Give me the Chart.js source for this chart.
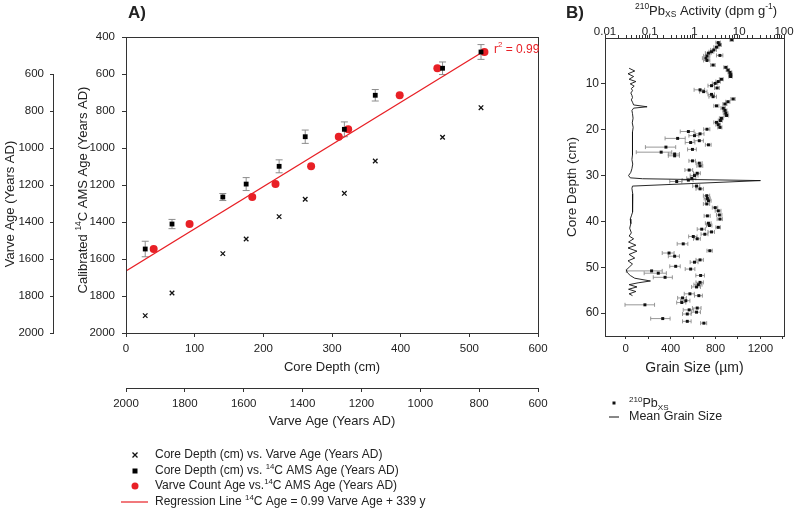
<!DOCTYPE html>
<html>
<head>
<meta charset="utf-8">
<script src="https://cdn.jsdelivr.net/npm/chart.js@4.4.1/dist/chart.umd.min.js"></script>
<style>
  body { margin: 0; background: #fff; }
  #wrap { position: relative; width: 796px; height: 512px; }
  #chartA { position: absolute; left: 0; top: 0; }
  #chartB { position: absolute; left: 560px; top: 0; }
</style>
</head>
<body>
<div id="wrap">
  <canvas id="chartA" width="560" height="512"></canvas>
  <canvas id="chartB" width="236" height="512"></canvas>
</div>
<script>
// ---- panel A data ----
const coreDepth = [28, 67, 141, 175, 223, 261, 318, 363, 461, 517];
const varveAge = [1906, 1784, 1571, 1492, 1371, 1277, 1245, 1070, 942, 782];
const amsAge = [1546, 1411, 1265, 1195, 1099, 939, 899, 715, 569, 481];
const amsErr = [42, 25, 19, 35, 35, 36, 40, 31, 34, 40];
const regVarve = [2000, 780];
const regAms = [1665, 473];
const depthTicks = [0, 100, 200, 300, 400, 500, 600];
const ageTicks = [400, 600, 800, 1000, 1200, 1400, 1600, 1800, 2000];
const varveTicks = [600, 800, 1000, 1200, 1400, 1600, 1800, 2000];

// ---- panel B data ----
const pbDepth = [0.4, 1.0, 1.5, 2.0, 2.6, 3.0, 3.3, 3.8, 3.9, 4.4, 4.9, 5.9, 6.4, 7.0, 7.5, 8.0, 8.4,
  9.0, 9.5, 9.9, 10.4, 10.9, 11.3, 11.7, 12.3, 12.8, 13.3, 13.9, 14.4, 14.8, 15.3, 15.8, 16.4, 16.9,
  17.5, 18.0, 18.4, 18.9, 19.5, 19.9, 20.4, 20.9, 21.3, 21.9, 22.4, 22.8, 23.3, 23.8, 24.3, 24.9,
  25.3, 25.7, 26.8, 27.3, 27.9, 28.8, 29.5, 30.0, 30.6, 31.0, 31.3, 32.3, 32.9, 34.4, 35.0, 35.5,
  36.2, 37.0, 37.7, 38.6, 38.8, 39.5, 40.4, 40.9, 41.3, 41.7, 42.3, 42.8, 43.3, 43.8, 44.9, 46.4,
  46.9, 47.6, 48.4, 48.9, 49.8, 50.4, 50.8, 51.3, 51.8, 52.2, 53.3, 53.8, 54.3, 55.8, 56.2, 56.7,
  57.3, 57.7, 58.2, 58.9, 59.3, 59.8, 60.2, 61.2, 61.8, 62.2];
const pbActivity = [6.8, 3.4, 3.6, 3.1, 2.7, 2.4, 2.05, 3.7, 1.9, 1.8, 1.9, 2.6, 5.0, 5.6, 6.2, 6.4, 6.4,
  4.0, 3.4, 2.9, 2.4, 3.2, 1.33, 1.6, 2.4, 2.6, 7.3, 5.6, 4.8, 3.1, 4.4, 4.8, 5.0, 5.2,
  4.0, 3.8, 3.1, 3.4, 3.7, 1.9, 0.73, 1.33, 1.0, 0.42, 1.28, 0.82, 2.05, 0.23, 0.9, 0.18,
  0.36, 0.36, 0.9, 1.28, 1.33, 0.76, 1.15, 1.0, 0.87, 0.73, 0.4, 1.11, 1.33, 1.88, 1.94, 2.05,
  1.88, 2.9, 3.4, 3.6, 1.94, 3.7, 2.05, 2.15, 3.4, 1.45, 2.4, 1.7, 0.94, 1.15, 0.56, 2.2,
  0.27, 0.36, 1.33, 1.0, 0.38, 0.82, 0.11, 0.155, 1.37, 0.22, 1.33, 1.22, 1.11, 0.79, 1.25, 0.54,
  0.64, 0.52, 0.078, 1.15, 0.76, 1.11, 0.69, 0.195, 0.69, 1.62];
const pbError = [0.6, 0.4, 0.4, 0.4, 0.4, 0.3, 0.3, 0.6, 0.3, 0.3, 0.3, 0.3, 0.5, 0.5, 0.6, 0.6, 0.6,
  0.4, 0.4, 0.4, 0.4, 0.4, 0.35, 0.3, 0.4, 0.5, 0.8, 0.6, 0.5, 0.4, 0.5, 0.5, 0.6, 0.6,
  0.4, 0.4, 0.4, 0.4, 0.4, 0.3, 0.25, 0.3, 0.25, 0.2, 0.3, 0.2, 0.3, 0.15, 0.2, 0.13,
  0.1, 0.1, 0.15, 0.2, 0.2, 0.15, 0.2, 0.2, 0.2, 0.2, 0.12, 0.2, 0.25, 0.3, 0.3, 0.3,
  0.3, 0.4, 0.5, 0.5, 0.3, 0.5, 0.3, 0.3, 0.4, 0.3, 0.4, 0.3, 0.2, 0.2, 0.15, 0.3,
  0.08, 0.1, 0.25, 0.2, 0.1, 0.2, 0.08, 0.08, 0.3, 0.1, 0.25, 0.25, 0.25, 0.2, 0.25, 0.12,
  0.15, 0.12, 0.05, 0.25, 0.2, 0.25, 0.15, 0.09, 0.15, 0.25];
const grainDepth = [6.6, 7.2, 7.8, 8.4, 9.0, 9.5, 10.0, 10.5, 11.0, 11.5, 12.0, 12.5, 13.0, 13.5, 14.0,
  14.6, 15.0, 15.3, 15.8, 16.5, 17.5, 18.5, 19.5, 20.5, 21.5, 22.5, 23.5, 24.5, 25.5, 26.5, 27.5,
  28.5, 29.3, 30.0, 30.5, 30.7, 31.1, 32.3, 32.8, 34, 35, 36, 37, 38, 38.8, 39.5, 40.5, 41.5, 42.5,
  43.2, 43.8, 44.5, 45.2, 45.8, 46.5, 47.2, 48.0, 48.6, 49.3, 50.0, 50.6, 51.2, 51.8, 52.4, 53.0,
  53.4, 53.8, 54.3, 54.8, 55.3, 55.8, 56.2];
const grainSize = [30, 80, 20, 70, 30, 90, 40, 75, 50, 60, 45, 55, 60, 50, 60,
  70, 190, 70, 55, 60, 65, 58, 66, 60, 56, 62, 58, 64, 60, 55, 62,
  55, 45, 25, 40, 150, 1200, 60, 55, 62, 60, 64, 58, 60, 50, 40, 45, 35, 50,
  30, 70, 25, 90, 20, 100, 30, 80, 20, 60, 30, 5, 15, 40, 80, 220,
  110, 30, 100, 25, 90, 30, 60];
const grainTicks = [0, 200, 400, 600, 800, 1000, 1200, 1400];
const grainLabels = [0, 400, 800, 1200];
const depthBTicks = [10, 20, 30, 40, 50, 60];

const FONT = "'Liberation Sans', Arial, sans-serif";
const RED = "rgb(232, 32, 38)";
const AXIS = "#333";
const TXT = "#222";
const ERR = "#8c8c8c";

Chart.defaults.font.family = FONT;
Chart.defaults.font.size = 11.5;
Chart.defaults.color = TXT;

// text with superscripts / subscripts: parts = [[text, mode], ...]
function richWidth(ctx, parts, size) {
  let w = 0;
  parts.forEach(([t, m]) => {
    ctx.font = `${m ? size * 0.65 : size}px ${FONT}`;
    w += ctx.measureText(t).width;
  });
  return w;
}

function drawRich(ctx, parts, x, y, size, opts = {}) {
  ctx.save();
  ctx.translate(x, y);
  if (opts.rotate) ctx.rotate(opts.rotate);
  ctx.fillStyle = opts.color || TXT;
  ctx.textBaseline = "middle";
  ctx.textAlign = "left";
  let cx = opts.align === "center" ? -richWidth(ctx, parts, size) / 2 : 0;
  parts.forEach(([t, m]) => {
    const s = m ? size * 0.65 : size;
    ctx.font = `${opts.bold ? "bold " : ""}${s}px ${FONT}`;
    const dy = m === "sup" ? -size * 0.35 : m === "sub" ? size * 0.3 : 0;
    ctx.fillText(t, cx, dy);
    cx += ctx.measureText(t).width;
  });
  ctx.restore();
}

const plain = (v) => String(v);
const fixedTicks = (list) => (s) => { s.ticks = list.map((v) => ({ value: v })); };

function axisOpts(extra) {
  return Object.assign({
    grid: { drawOnChartArea: false, tickLength: 4, color: AXIS },
    border: { color: AXIS, width: 1 },
  }, extra);
}

// ---------------- panel A ----------------
const panelAPlugin = {
  id: "panelA",
  beforeDatasetsDraw(chart) {
    const { ctx, scales } = chart;
    ctx.save();
    ctx.strokeStyle = ERR;
    ctx.lineWidth = 1;
    coreDepth.forEach((d, i) => {
      const x = scales.x.getPixelForValue(d);
      const y1 = scales.y.getPixelForValue(amsAge[i] - amsErr[i]);
      const y2 = scales.y.getPixelForValue(amsAge[i] + amsErr[i]);
      ctx.beginPath();
      ctx.moveTo(x, y1); ctx.lineTo(x, y2);
      ctx.moveTo(x - 3.5, y1); ctx.lineTo(x + 3.5, y1);
      ctx.moveTo(x - 3.5, y2); ctx.lineTo(x + 3.5, y2);
      ctx.stroke();
    });
    ctx.restore();
  },
  afterDraw(chart) {
    const { ctx, chartArea: a, scales } = chart;
    ctx.save();
    ctx.strokeStyle = AXIS;
    ctx.lineWidth = 1;
    ctx.strokeRect(a.left + 0.5, a.top + 0.5, a.right - a.left, a.bottom - a.top);
    // partial spine of the varve-age axis on the left
    const sx = scales.yv.right - 0.5;
    ctx.beginPath();
    ctx.moveTo(sx, scales.yv.getPixelForValue(600));
    ctx.lineTo(sx, scales.yv.getPixelForValue(2000));
    ctx.stroke();
    ctx.restore();

    drawRich(ctx, [["A)"]], 128, 13, 17, { bold: true });
    drawRich(ctx, [["Calibrated "], ["14", "sup"], ["C AMS Age (Years AD)"]], 83, 190, 13,
      { align: "center", rotate: -Math.PI / 2 });
    drawRich(ctx, [["Varve Age (Years AD)"]], 10, 204, 13, { align: "center", rotate: -Math.PI / 2 });
    drawRich(ctx, [["Core Depth (cm)"]], (a.left + a.right) / 2, 367, 13, { align: "center" });
    drawRich(ctx, [["Varve Age (Years AD)"]], (a.left + a.right) / 2, 421, 13, { align: "center" });

    const rx = scales.x2.getPixelForValue(regVarve[1]);
    const ry = scales.y.getPixelForValue(regAms[1]);
    drawRich(ctx, [["r"], ["2", "sup"], [" = 0.99"]], rx + 9, ry - 1, 12, { color: RED });

    // legend
    const lx = 135, tx = 155, rows = [455, 471, 486, 502];
    ctx.save();
    ctx.strokeStyle = "#111";
    ctx.lineWidth = 1.3;
    ctx.beginPath();
    ctx.moveTo(lx - 2.5, rows[0] - 2.5); ctx.lineTo(lx + 2.5, rows[0] + 2.5);
    ctx.moveTo(lx + 2.5, rows[0] - 2.5); ctx.lineTo(lx - 2.5, rows[0] + 2.5);
    ctx.stroke();
    ctx.fillStyle = "#000";
    ctx.fillRect(lx - 2.5, rows[1] - 2.5, 5, 5);
    ctx.fillStyle = RED;
    ctx.beginPath();
    ctx.arc(lx, rows[2], 3.5, 0, Math.PI * 2);
    ctx.fill();
    ctx.strokeStyle = RED;
    ctx.lineWidth = 1.2;
    ctx.beginPath();
    ctx.moveTo(121, rows[3]); ctx.lineTo(148, rows[3]);
    ctx.stroke();
    ctx.restore();
    drawRich(ctx, [["Core Depth (cm) vs. Varve Age (Years AD)"]], tx, rows[0], 12);
    drawRich(ctx, [["Core Depth (cm) vs. "], ["14", "sup"], ["C AMS Age (Years AD)"]], tx, rows[1], 12);
    drawRich(ctx, [["Varve Count Age vs."], ["14", "sup"], ["C AMS Age (Years AD)"]], tx, rows[2], 12);
    drawRich(ctx, [["Regression Line "], ["14", "sup"], ["C Age = 0.99 Varve Age + 339 y"]], tx, rows[3], 12);
  },
};

new Chart(document.getElementById("chartA"), {
  type: "scatter",
  data: {
    datasets: [
      {
        label: "Core Depth (cm) vs. Varve Age (Years AD)",
        data: coreDepth.map((d, i) => ({ x: d, y: varveAge[i] })),
        xAxisID: "x", yAxisID: "y",
        pointStyle: "crossRot", radius: 3.2, borderWidth: 1.3,
        borderColor: "#111", backgroundColor: "#111",
      },
      {
        label: "Core Depth (cm) vs. 14C AMS Age (Years AD)",
        data: coreDepth.map((d, i) => ({ x: d, y: amsAge[i] })),
        xAxisID: "x", yAxisID: "y",
        pointStyle: "rect", radius: 3.4, borderWidth: 0,
        borderColor: "#000", backgroundColor: "#000",
      },
      {
        label: "Varve Count Age vs. 14C AMS Age (Years AD)",
        data: varveAge.map((v, i) => ({ x: v, y: amsAge[i] })),
        xAxisID: "x2", yAxisID: "y",
        pointStyle: "circle", radius: 4, borderWidth: 0,
        borderColor: RED, backgroundColor: RED,
      },
      {
        type: "line",
        label: "Regression Line",
        data: regVarve.map((v, i) => ({ x: v, y: regAms[i] })),
        xAxisID: "x2", yAxisID: "y",
        borderColor: RED, borderWidth: 1.3, pointRadius: 0, fill: false,
      },
    ],
  },
  options: {
    responsive: false,
    animation: false,
    events: [],
    layout: { padding: { left: 10, right: 22, top: 37, bottom: 99 } },
    plugins: { legend: { display: false }, tooltip: { enabled: false } },
    scales: {
      x: axisOpts({
        axis: "x", type: "linear", position: "bottom", min: 0, max: 600,
        afterBuildTicks: fixedTicks(depthTicks),
        ticks: { padding: 5, maxRotation: 0, callback: plain },
        afterFit: (s) => { s.height = 55; },
      }),
      x2: axisOpts({
        axis: "x", type: "linear", position: "bottom", min: 600, max: 2000, reverse: true,
        afterBuildTicks: fixedTicks(varveTicks),
        ticks: { padding: 5, maxRotation: 0, callback: plain },
        afterFit: (s) => { s.height = 25; },
      }),
      y: axisOpts({
        axis: "y", type: "linear", position: "left", min: 400, max: 2000, reverse: true,
        afterBuildTicks: fixedTicks(ageTicks),
        ticks: { padding: 7, callback: plain },
        afterFit: (s) => { s.width = 72; },
      }),
      yv: axisOpts({
        axis: "y", type: "linear", position: "left", min: 400, max: 2000, reverse: true,
        afterBuildTicks: fixedTicks(varveTicks),
        ticks: { padding: 6, callback: plain },
        border: { display: false },
        afterFit: (s) => { s.width = 44; },
      }),
    },
  },
  plugins: [panelAPlugin],
});

// ---------------- panel B ----------------
const panelBPlugin = {
  id: "panelB",
  beforeDatasetsDraw(chart) {
    const { ctx, scales } = chart;
    ctx.save();
    ctx.strokeStyle = ERR;
    ctx.lineWidth = 0.9;
    pbDepth.forEach((d, i) => {
      const y = scales.y.getPixelForValue(d);
      const x1 = scales.xl.getPixelForValue(pbActivity[i] - pbError[i]);
      const x2 = scales.xl.getPixelForValue(pbActivity[i] + pbError[i]);
      ctx.beginPath();
      ctx.moveTo(x1, y); ctx.lineTo(x2, y);
      ctx.moveTo(x1, y - 2); ctx.lineTo(x1, y + 2);
      ctx.moveTo(x2, y - 2); ctx.lineTo(x2, y + 2);
      ctx.stroke();
    });
    ctx.restore();
  },
  afterDraw(chart) {
    const { ctx, chartArea: a } = chart;
    ctx.save();
    ctx.strokeStyle = AXIS;
    ctx.lineWidth = 1;
    ctx.strokeRect(a.left + 0.5, a.top + 0.5, a.right - a.left, a.bottom - a.top);
    ctx.restore();

    drawRich(ctx, [["B)"]], 6, 13, 17, { bold: true });
    drawRich(ctx, [["210", "sup"], ["Pb"], ["XS", "sub"], [" Activity (dpm g"], ["-1", "sup"], [")"]],
      146, 11, 13, { align: "center" });
    drawRich(ctx, [["Core Depth (cm)"]], 12, (a.top + a.bottom) / 2, 13.5,
      { align: "center", rotate: -Math.PI / 2 });
    drawRich(ctx, [["Grain Size (µm)"]], (a.left + a.right) / 2, 368, 14, { align: "center" });

    // legend
    ctx.save();
    ctx.fillStyle = "#111";
    ctx.fillRect(52.5, 401.5, 3, 3);
    ctx.strokeStyle = "#111";
    ctx.lineWidth = 1;
    ctx.beginPath();
    ctx.moveTo(49, 417); ctx.lineTo(59, 417);
    ctx.stroke();
    ctx.restore();
    drawRich(ctx, [["210", "sup"], ["Pb"], ["XS", "sub"]], 69, 404, 12.5);
    drawRich(ctx, [["Mean Grain Size"]], 69, 417, 12.5);
  },
};

new Chart(document.getElementById("chartB"), {
  type: "scatter",
  data: {
    datasets: [
      {
        label: "210Pbxs",
        data: pbDepth.map((d, i) => ({ x: pbActivity[i], y: d })),
        xAxisID: "xl", yAxisID: "y",
        pointStyle: "rect", radius: 2.1, borderWidth: 0,
        borderColor: "#111", backgroundColor: "#111",
      },
      {
        label: "Mean Grain Size",
        data: grainDepth.map((d, i) => ({ x: grainSize[i], y: d })),
        xAxisID: "xg", yAxisID: "y",
        showLine: true, borderColor: "#111", borderWidth: 0.9, pointRadius: 0, fill: false,
      },
    ],
  },
  options: {
    responsive: false,
    animation: false,
    events: [],
    layout: { padding: { left: 25, right: 12, top: 22, bottom: 158 } },
    plugins: { legend: { display: false }, tooltip: { enabled: false } },
    scales: {
      xl: axisOpts({
        axis: "x", type: "logarithmic", position: "top", min: 0.01, max: 100,
        grid: { drawOnChartArea: false, tickLength: 3, color: AXIS },
        ticks: {
          autoSkip: false, maxRotation: 0, padding: -4,
          callback: (v) => {
            const p = Math.log10(v);
            if (Math.abs(p - Math.round(p)) > 1e-6) return "";
            const r = Math.round(p);
            return r < 0 ? Math.pow(10, r).toFixed(-r) : String(Math.pow(10, r));
          },
        },
        afterFit: (s) => { s.height = 16; },
      }),
      xg: axisOpts({
        axis: "x", type: "linear", position: "bottom", min: -185, max: 1410,
        grid: { drawOnChartArea: false, tickLength: 3, color: AXIS },
        afterBuildTicks: fixedTicks(grainTicks),
        ticks: {
          padding: 3, maxRotation: 0, autoSkip: false,
          callback: (v) => (grainLabels.indexOf(Math.round(v)) >= 0 ? String(Math.round(v)) : ""),
        },
        afterFit: (s) => { s.height = 18; },
      }),
      y: axisOpts({
        axis: "y", type: "linear", position: "left", min: 0, max: 65, reverse: true,
        afterBuildTicks: fixedTicks(depthBTicks),
        ticks: { padding: 2, font: { size: 12 }, callback: plain },
        afterFit: (s) => { s.width = 20; },
      }),
    },
  },
  plugins: [panelBPlugin],
});
</script>
</body>
</html>
